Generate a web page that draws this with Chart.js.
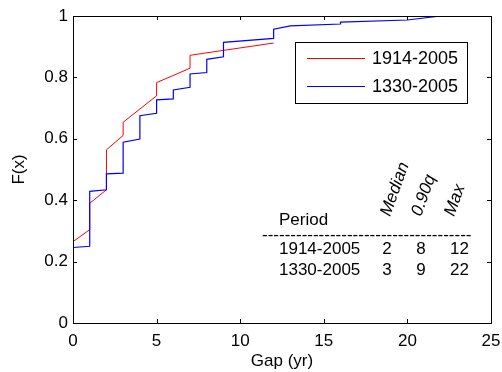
<!DOCTYPE html>
<html>
<head>
<meta charset="utf-8">
<script src="https://cdn.jsdelivr.net/npm/chart.js@4.4.1/dist/chart.umd.min.js"></script>
<style>
  html, body { margin: 0; padding: 0; background: #fff; }
  #wrap { width: 502px; height: 372px; }
</style>
</head>
<body>
<div id="wrap"><canvas id="gap-cdf" width="502" height="372"></canvas></div>
<script>
const redGap = [0, 0, 1, 1, 2, 2, 3, 3, 5, 5, 7, 7, 12];
const redF   = [0, 0.265, 0.304, 0.390, 0.434, 0.564, 0.611, 0.654, 0.740, 0.783, 0.830, 0.872, 0.912];

const blueGap = [0, 0, 1, 1, 2, 2, 3, 3, 4, 4, 5, 5, 6, 6, 7, 7, 8, 8, 9, 9, 12, 12, 13, 16, 16, 20, 22];
const blueF   = [0, 0.246, 0.250, 0.429, 0.434, 0.486, 0.488, 0.589, 0.599, 0.675, 0.683, 0.727, 0.730, 0.759,
                 0.768, 0.811, 0.816, 0.859, 0.867, 0.914, 0.927, 0.957, 0.968, 0.974, 0.980, 0.987, 1.0];

const seriesNames = ['1914-2005', '1330-2005'];
const seriesColors = ['#ff0000', '#0000ff'];

const xTicks = [0, 5, 10, 15, 20, 25];
const yTicks = [0, 0.2, 0.4, 0.6, 0.8, 1];

// summary table
const periods = ['1914-2005', '1330-2005'];
const medians = [2, 3];
const q90 = [8, 9];
const maxes = [12, 22];
const tableHeads = ['Median', '0.90q', 'Max'];

const FONT = '"Liberation Sans", Arial, Helvetica, sans-serif';

const toPoints = (xs, ys) => xs.map((v, i) => ({ x: v, y: ys[i] }));

// box, inward ticks, legend and the little table
const decorations = {
  id: 'decorations',
  afterDraw(chart) {
    const { ctx, chartArea: a, scales: { x, y } } = chart;
    ctx.save();
    ctx.strokeStyle = '#000';
    ctx.lineWidth = 1;
    ctx.strokeRect(a.left + 0.5, a.top + 0.5, a.right - a.left, a.bottom - a.top);

    ctx.beginPath();
    xTicks.forEach(v => {
      const px = Math.round(x.getPixelForValue(v)) + 0.5;
      ctx.moveTo(px, a.bottom); ctx.lineTo(px, a.bottom - 4);
      ctx.moveTo(px, a.top); ctx.lineTo(px, a.top + 4);
    });
    yTicks.forEach(v => {
      const py = Math.round(y.getPixelForValue(v)) + 0.5;
      ctx.moveTo(a.left, py); ctx.lineTo(a.left + 4, py);
      ctx.moveTo(a.right, py); ctx.lineTo(a.right - 4, py);
    });
    ctx.stroke();

    // legend
    ctx.fillStyle = '#fff';
    ctx.fillRect(295.5, 42.5, 172, 61);
    ctx.strokeRect(295.5, 42.5, 172, 61);
    ctx.font = '18px ' + FONT;
    ctx.textBaseline = 'middle';
    ctx.textAlign = 'left';
    seriesNames.forEach((name, i) => {
      const ly = 58.5 + i * 28;
      ctx.strokeStyle = seriesColors[i];
      ctx.beginPath(); ctx.moveTo(307, ly); ctx.lineTo(365, ly); ctx.stroke();
      ctx.fillStyle = '#000';
      ctx.fillText(name, 372, ly + 1);
    });

    // table
    ctx.fillStyle = '#000';
    ctx.textBaseline = 'alphabetic';
    ctx.font = '17px ' + FONT;
    ctx.fillText('Period', 279, 225);
    ctx.fillText('-'.repeat(37), 262, 240);
    periods.forEach((p, i) => {
      const by = 254 + i * 21;
      ctx.textAlign = 'left';
      ctx.fillText(p, 279, by);
      ctx.textAlign = 'center';
      ctx.fillText(String(medians[i]), 387, by);
      ctx.fillText(String(q90[i]), 421, by);
      ctx.textAlign = 'right';
      ctx.fillText(String(maxes[i]), 469, by);
    });
    ctx.textAlign = 'left';
    ctx.font = 'italic 17px ' + FONT;
    const headX = [390, 421, 454];
    tableHeads.forEach((h, i) => {
      ctx.save();
      ctx.translate(headX[i], 217);
      ctx.rotate(-70 * Math.PI / 180);
      ctx.fillText(h, 0, 0);
      ctx.restore();
    });
    ctx.restore();
  }
};

new Chart(document.getElementById('gap-cdf'), {
  type: 'scatter',
  data: {
    datasets: [
      {
        label: seriesNames[0],
        data: toPoints(redGap, redF),
        borderColor: seriesColors[0],
        showLine: true, borderWidth: 1, pointRadius: 0, tension: 0, order: 1
      },
      {
        label: seriesNames[1],
        data: toPoints(blueGap, blueF),
        borderColor: seriesColors[1],
        showLine: true, borderWidth: 1.2, pointRadius: 0, tension: 0, order: 0
      }
    ]
  },
  options: {
    responsive: false,
    animation: false,
    layout: { padding: { top: 16, right: 11, left: 0, bottom: 0 } },
    scales: {
      x: {
        type: 'linear', min: 0, max: 25,
        grid: { display: false, drawTicks: false },
        border: { display: false },
        ticks: { stepSize: 5, color: '#000', padding: 8, maxRotation: 0, font: { family: FONT, size: 17 } },
        title: { display: true, text: 'Gap (yr)', color: '#000', padding: { top: 0, bottom: 0 }, font: { family: FONT, size: 17 } },
        afterFit(s) { s.height = 49; s.paddingLeft = 0; s.paddingRight = 0; }
      },
      y: {
        min: 0, max: 1,
        grid: { display: false, drawTicks: false },
        border: { display: false },
        ticks: {
          stepSize: 0.2, color: '#000', padding: 5, font: { family: FONT, size: 17 },
          callback: v => String(+v.toFixed(1))
        },
        title: { display: true, text: 'F(x)', color: '#000', padding: { top: 9, bottom: 0 }, font: { family: FONT, size: 17 } },
        afterFit(s) { s.width = 73; s.paddingTop = 0; s.paddingBottom = 0; }
      }
    },
    plugins: {
      legend: { display: false },
      tooltip: { enabled: false }
    }
  },
  plugins: [decorations]
});
</script>
</body>
</html>
